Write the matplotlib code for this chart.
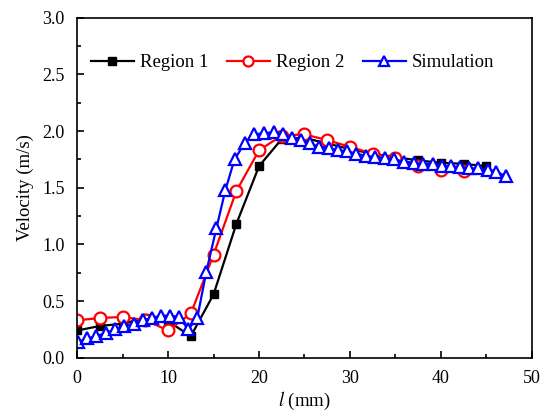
import matplotlib.pyplot as plt
from matplotlib.ticker import MultipleLocator

plt.rcParams['font.family'] = 'Liberation Serif'
plt.rcParams['mathtext.fontset'] = 'stix'

# Region 1 (measured)
x_r1 = [0, 2.5, 5, 7.5, 10, 12.5, 15, 17.5, 20, 22.5, 25, 27.5, 30, 32.5, 35, 37.5, 40, 42.5, 45]
v_r1 = [0.24, 0.28, 0.30, 0.35, 0.32, 0.19, 0.56, 1.18, 1.69, 1.93, 1.94, 1.89, 1.84, 1.80, 1.77,
        1.74, 1.72, 1.71, 1.69]

# Region 2 (measured)
x_r2 = [0, 2.5, 5, 7.5, 10, 12.5, 15, 17.5, 20, 22.5, 25, 27.5, 30, 32.5, 35, 37.5, 40, 42.5]
v_r2 = [0.33, 0.35, 0.36, 0.33, 0.24, 0.39, 0.91, 1.47, 1.83, 1.96, 1.97, 1.92, 1.86, 1.80, 1.76,
        1.69, 1.66, 1.65]

# Simulation
x_sim = [0.1, 1.1, 2.1, 3.2, 4.2, 5.1, 6.2, 7.2, 8.2, 9.2, 10.2, 11.2, 12.2, 13.2, 14.2, 15.3,
         16.3, 17.3, 18.4, 19.4, 20.5, 21.6, 22.6, 23.6, 24.6, 25.6, 26.6, 27.7, 28.7, 29.7,
         30.7, 31.8, 32.8, 33.9, 34.9, 35.9, 37.0, 38.0, 39.1, 40.1, 41.1, 42.1, 43.1, 44.1,
         45.2, 46.1, 47.2]
v_sim = [0.14, 0.17, 0.19, 0.22, 0.25, 0.28, 0.30, 0.33, 0.35, 0.37, 0.37, 0.36, 0.25, 0.35,
         0.76, 1.14, 1.48, 1.75, 1.89, 1.97, 1.98, 1.99, 1.97, 1.94, 1.92, 1.89, 1.86, 1.85,
         1.83, 1.82, 1.80, 1.78, 1.77, 1.76, 1.75, 1.73, 1.72, 1.71, 1.71, 1.69, 1.69, 1.68,
         1.67, 1.67, 1.66, 1.64, 1.60]

fig = plt.figure(figsize=(5.42, 4.11), dpi=100)
ax = fig.add_axes([0.1426, 0.1297, 0.8384, 0.8273])

ax.plot(x_r1, v_r1, color='black', lw=1.6, marker='s', ms=6, label='Region 1')
ax.plot(x_r2, v_r2, color='red', lw=1.6, marker='o', ms=8.5, mfc='white', mew=1.6,
        label='Region 2')
ax.plot(x_sim, v_sim, color='blue', lw=1.6, marker='^', ms=8.5, mfc='white', mew=1.6,
        label='Simulation')

ax.set_xlim(0, 50)
ax.set_ylim(0, 3.0)
ax.xaxis.set_major_locator(MultipleLocator(10))
ax.xaxis.set_minor_locator(MultipleLocator(5))
ax.yaxis.set_major_locator(MultipleLocator(0.5))
ax.yaxis.set_minor_locator(MultipleLocator(0.25))
ax.yaxis.set_major_formatter(plt.FormatStrFormatter('%.1f'))
ax.tick_params(which='both', direction='in', labelsize=13, width=1.2)
ax.tick_params(axis='y', which='both', pad=9)
ax.tick_params(axis='x', which='both', pad=9)
ax.tick_params(which='major', length=5)
ax.tick_params(which='minor', length=3)
for s in ax.spines.values():
    s.set_linewidth(1.2)

ax.set_xlabel(r'$l$ (mm)', fontsize=13.5, labelpad=2)
ax.set_ylabel('Velocity (m/s)', fontsize=13.5, labelpad=6)

ax.legend(loc='center left', bbox_to_anchor=(0.03, 0.868), ncol=3, frameon=False,
          fontsize=13.5, handlelength=2.3, handletextpad=0.3, columnspacing=1.0,
          markerscale=0.85, borderaxespad=0, borderpad=0)

fig.savefig('out.png', dpi=100)
